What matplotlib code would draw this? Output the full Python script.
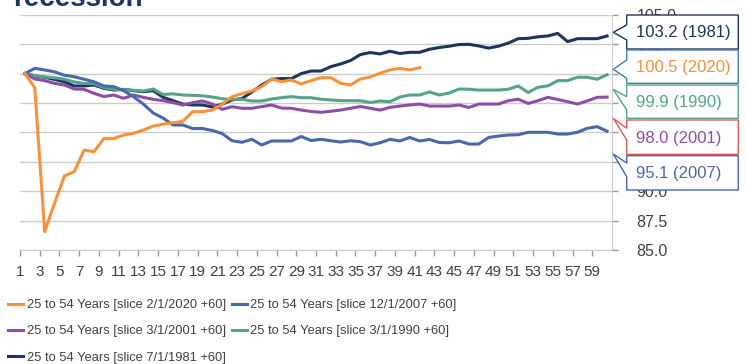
import numpy as np
import matplotlib
matplotlib.use('Agg')
import matplotlib.pyplot as plt
from matplotlib.patches import Polygon

# Данные (индекс месяца от начала рецессии = 100)
months = np.arange(1, 61)

s2020 = [100.0, 98.8, 86.56, 88.97, 91.29, 91.66, 93.5, 93.36, 94.47, 94.47,
         94.78, 94.92, 95.2, 95.54, 95.7, 95.82, 95.94, 96.76, 96.76, 96.9,
         97.4, 98.04, 98.3, 98.52, 98.89, 99.54, 99.31, 99.46, 99.12, 99.4,
         99.65, 99.65, 99.17, 99.03, 99.54, 99.71, 100.03, 100.31, 100.45, 100.31,
         100.5]

s2007 = [100.0, 100.45, 100.31, 100.15, 99.86, 99.73, 99.52, 99.3, 98.95, 98.89,
         98.55, 98.04, 97.41, 96.65, 96.22, 95.63, 95.63, 95.33, 95.33, 95.16,
         94.9, 94.29, 94.16, 94.41, 93.93, 94.27, 94.27, 94.27, 94.65, 94.31,
         94.41, 94.29, 94.18, 94.29, 94.21, 93.93, 94.12, 94.41, 94.27, 94.57,
         94.27, 94.4, 94.14, 94.12, 94.27, 94.01, 94.01, 94.57, 94.69, 94.78,
         94.8, 95.01, 95.01, 95.01, 94.86, 94.86, 95.01, 95.35, 95.49, 95.1]

s2001 = [100.0, 99.54, 99.4, 99.17, 99.03, 98.69, 98.66, 98.32, 98.05, 98.18,
         97.9, 98.18, 97.98, 97.81, 97.7, 97.53, 97.33, 97.53, 97.67, 97.41,
         96.96, 97.19, 97.05, 97.05, 97.19, 97.33, 97.07, 97.05, 96.9, 96.78,
         96.71, 96.8, 96.9, 97.05, 97.2, 97.05, 96.9, 97.13, 97.24, 97.33,
         97.41, 97.24, 97.24, 97.24, 97.33, 97.12, 97.41, 97.41, 97.41, 97.7,
         97.82, 97.46, 97.7, 97.98, 97.8, 97.61, 97.41, 97.68, 97.98, 98.0]

s1990 = [100.0, 99.84, 99.71, 99.65, 99.52, 99.29, 99.16, 99.14, 98.82, 98.65,
         98.63, 98.58, 98.52, 98.69, 98.22, 98.28, 98.18, 98.15, 98.11, 98.01,
         97.86, 97.81, 97.81, 97.67, 97.67, 97.84, 97.95, 98.04, 97.95, 97.95,
         97.82, 97.76, 97.7, 97.7, 97.69, 97.54, 97.67, 97.61, 98.01, 98.18,
         98.18, 98.44, 98.18, 98.35, 98.69, 98.67, 98.6, 98.6, 98.6, 98.67,
         98.95, 98.39, 98.84, 98.95, 99.4, 99.4, 99.69, 99.69, 99.52, 99.9]

s1981 = [100.0, 99.8, 99.69, 99.5, 99.3, 98.95, 98.95, 99.03, 98.75, 98.6,
         98.66, 98.55, 98.46, 98.55, 97.98, 97.7, 97.41, 97.33, 97.33, 97.16,
         97.41, 97.76, 97.88, 98.43, 99.03, 99.52, 99.58, 99.57, 100.0, 100.22,
         100.22, 100.59, 100.82, 101.11, 101.62, 101.79, 101.67, 101.9, 101.71, 101.81,
         101.81, 102.07, 102.22, 102.33, 102.47, 102.49, 102.35, 102.17, 102.33, 102.6,
         102.97, 103.0, 103.13, 103.2, 103.42, 102.72, 102.97, 102.97, 102.97, 103.2]

series_labels = ['25 to 54 Years [slice 2/1/2020 +60]',
                 '25 to 54 Years [slice 12/1/2007 +60]',
                 '25 to 54 Years [slice 3/1/2001 +60]',
                 '25 to 54 Years [slice 3/1/1990 +60]',
                 '25 to 54 Years [slice 7/1/1981 +60]']
years = ['2020', '2007', '2001', '1990', '1981']
colors = ['#f7923a', '#4a66ac', '#8e4ea8', '#54a38b', '#1d355f']
all_series = [s2020, s2007, s2001, s1990, s1981]

y_ticks = [85.0, 87.5, 90.0, 92.5, 95.0, 97.5, 100.0, 102.5, 105.0]
x_tick_labels = [str(i) for i in range(1, 60, 2)]

W, H = 746, 364
fig = plt.figure(figsize=(W / 100, H / 100), dpi=100)
ax = fig.add_axes([20 / W, 1 - 250 / H, 592 / W, (250 - 14.8) / H])

regular = ['Liberation Sans', 'DejaVu Sans']

# рисуем от старых к новым, чтобы 2020 был сверху
lines = {}
for data, lab, col in reversed(list(zip(all_series, series_labels, colors))):
    x = months[:len(data)]
    ln, = ax.plot(x, data, color=col, lw=2.2, label=lab, solid_joinstyle='round')
    lines[lab] = ln

ax.set_xlim(0.5, 60.5)
ax.set_ylim(85, 105)
ax.set_xticks(np.arange(0.5, 60, 2))
ax.set_xticklabels(x_tick_labels, family=regular, fontsize=11, color='#404040')
ax.yaxis.tick_right()
ax.set_yticks(y_ticks)
ax.set_yticklabels([f'{v:.1f}' for v in y_ticks], family=regular, fontsize=11.5, color='#404040')
ax.tick_params(axis='x', length=4.5, width=1, color='#999999', pad=6)
ax.tick_params(axis='y', length=4.5, width=1, color='#999999', pad=13)
ax.grid(axis='y', color='#cccccc', lw=1)
ax.set_axisbelow(True)
for s in ['top', 'left']:
    ax.spines[s].set_visible(False)
ax.spines['right'].set_color('#cccccc')
ax.spines['bottom'].set_color('#cccccc')

# заголовок (обрезан сверху)
fig.text(12.7 / W, 1 - 6.0 / H, 'recession', fontsize=20, weight='bold',
         color='#1d355f', family=regular, va='baseline')

# выноски справа
def px(x, y):
    return (x / W, 1 - y / H)

box_left, box_right, tip_x = 626.7, 738.3, 613.3
boxes = [  # top, bottom, tip_y, base_top, base_bottom, edge color
    (15, 49, 32.3, 25, 40, '#1d355f'),
    (50, 83.3, 69.3, 60, 78.3, '#3f7fc0'),
    (85, 118.3, 89.3, 96.7, 110, '#54a38b'),
    (120, 154.3, 118.3, 128.3, 140, '#e05a5a'),
    (155.7, 190, 154, 163, 176.7, '#4a66ac'),
]
order = ['1981', '2020', '1990', '2001', '2007']
for (top, bot, ty, bt, bb, ec), yr in zip(boxes, order):
    k = years.index(yr)
    pts = [px(box_left, top), px(box_right, top), px(box_right, bot), px(box_left, bot),
           px(box_left, bb), px(tip_x, ty), px(box_left, bt)]
    fig.add_artist(Polygon(pts, closed=True, transform=fig.transFigure,
                           facecolor='white', edgecolor=ec, lw=1, zorder=5))
    last = all_series[k][-1]
    fig.text(*px(box_left + 9, (top + bot) / 2 + 1), f'{last:.1f} ({yr})', color=colors[k],
             fontsize=12, family=regular, va='center', ha='left', zorder=6)

# легенда
leg_order = ['2020', '2001', '1981', '2007', '1990']
handles = [lines[series_labels[years.index(y)]] for y in leg_order]
labels = [series_labels[years.index(y)] for y in leg_order]
fig.legend(handles, labels, loc='upper left', bbox_to_anchor=(8 / W, 1 - 299 / H),
           ncol=2, frameon=False, handlelength=1.15, handletextpad=0.3,
           columnspacing=0.45, labelspacing=1.1, borderpad=0, borderaxespad=0,
           prop={'family': regular, 'size': 9.3}, labelcolor='#404040')

fig.savefig('out.png', dpi=100)
